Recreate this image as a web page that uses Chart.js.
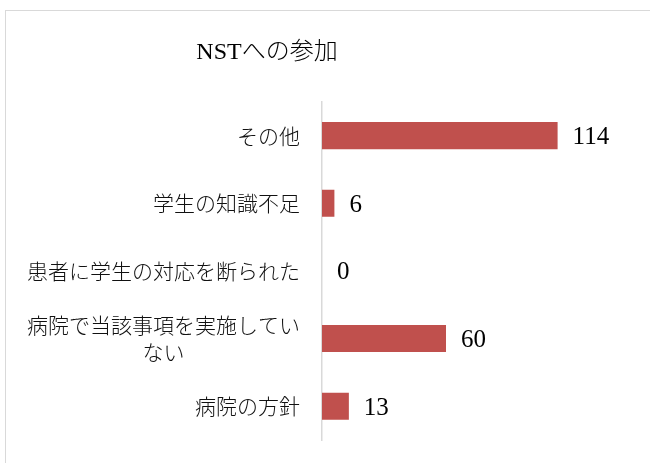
<!DOCTYPE html>
<html>
<head>
<meta charset="utf-8">
<script src="https://cdn.jsdelivr.net/npm/chart.js@4"></script>
<style>
  html, body { margin: 0; padding: 0; background: #fff; overflow: hidden; }
  #wrap { position: relative; width: 650px; height: 463px; }
  #frame { position: absolute; left: 5px; top: 10px; width: 700px; height: 500px;
           border: 1px solid #d9d9d9; box-sizing: border-box; }
  canvas { position: absolute; left: 0; top: 0; }
</style>
</head>
<body>
<div id="wrap">
  <div id="frame"></div>
  <canvas id="c" width="650" height="463"></canvas>
</div>
<script>
const titleText = 'NSTへの参加';
const categories = [
  'その他',
  '学生の知識不足',
  '患者に学生の対応を断られた',
  ['病院で当該事項を実施してい', 'ない\u3000\u3000\u3000\u3000\u3000\u2002'],
  '病院の方針'
];
const values = [114, 6, 0, 60, 13];
const axisMax = 120;

const valueLabels = {
  id: 'valueLabels',
  afterDatasetsDraw(chart) {
    const ctx = chart.ctx;
    const meta = chart.getDatasetMeta(0);
    ctx.save();
    ctx.font = '25px "Liberation Serif", "DejaVu Serif", serif';
    ctx.fillStyle = '#000';
    ctx.textAlign = 'left';
    ctx.textBaseline = 'middle';
    meta.data.forEach((bar, i) => {
      ctx.fillText(String(values[i]), bar.x + 15, bar.y + 2);
    });
    ctx.restore();
  }
};

const titlePos = {
  id: 'titlePos',
  afterLayout(chart) {
    const t = chart.titleBlock;
    if (t) { t.left = 5; t.right = 529; t.width = 524; }
  }
};

new Chart(document.getElementById('c'), {
  type: 'bar',
  data: {
    labels: categories,
    datasets: [{
      data: values,
      backgroundColor: '#C0504D',
      borderWidth: 0,
      barPercentage: 0.4,
      categoryPercentage: 1.0
    }]
  },
  options: {
    indexAxis: 'y',
    responsive: false,
    animation: false,
    events: [],
    layout: { padding: { left: 0, right: 80, top: 0, bottom: 23 } },
    plugins: {
      legend: { display: false },
      tooltip: { enabled: false },
      title: {
        display: true,
        text: titleText,
        color: '#000',
        font: { family: '"Liberation Serif", "Noto Sans CJK JP", serif', size: 24, weight: '300', lineHeight: 1.2 },
        padding: { top: 38, bottom: 35 }
      }
    },
    scales: {
      x: {
        display: false,
        min: 0,
        max: axisMax
      },
      y: {
        grid: { display: false, drawTicks: false },
        border: { display: true, color: '#d9d9d9', width: 1.5 },
        ticks: {
          color: '#111',
          padding: 22,
          font: { family: '"Noto Sans CJK JP", sans-serif', size: 21, weight: '300', lineHeight: 1.3 }
        },
        afterFit(scale) {
          scale.width = 322;
          scale.paddingTop = 0;
          scale.paddingBottom = 0;
        }
      }
    }
  },
  plugins: [valueLabels, titlePos]
});
</script>
</body>
</html>
